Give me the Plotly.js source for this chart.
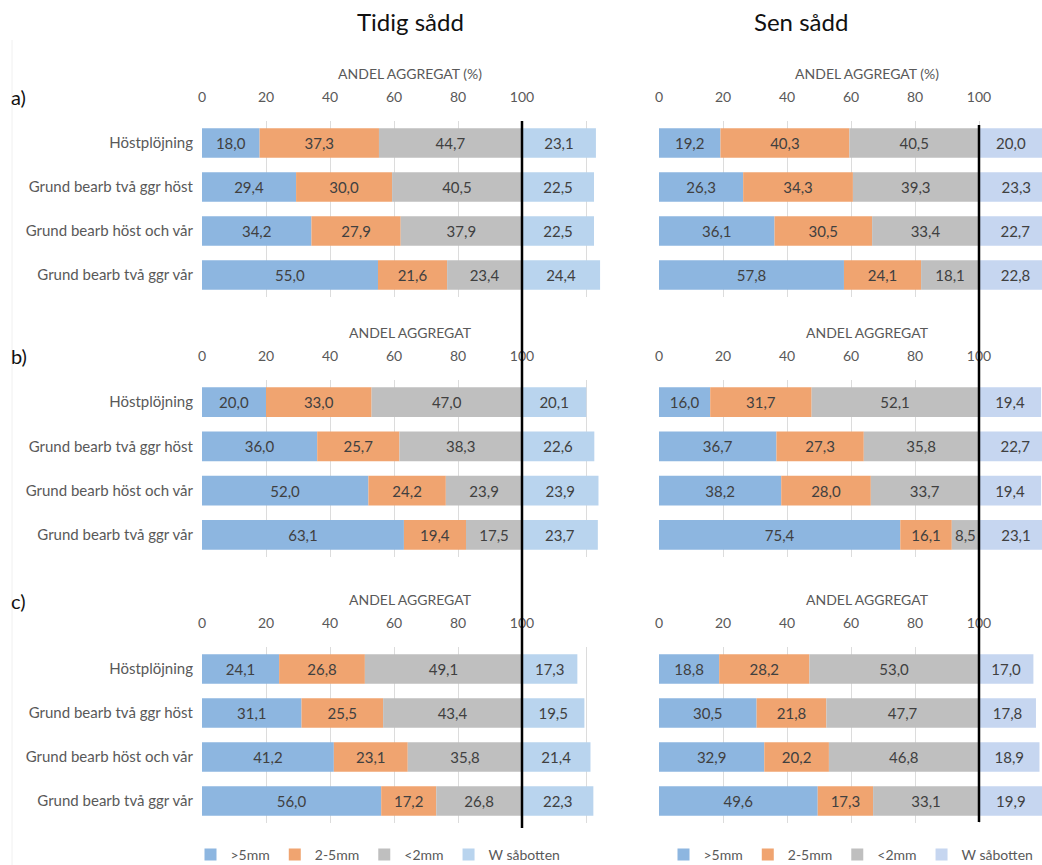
<!DOCTYPE html>
<html>
<head>
<meta charset="utf-8">
<script src="https://cdn.plot.ly/plotly-3.0.1.min.js"></script>
<style>
  html, body { margin: 0; padding: 0; overflow: hidden; background: #fff; }
  #chart { width: 1080px; height: 865px; }
</style>
</head>
<body>
<div id="chart"></div>
<script>
// Treatments (bar categories), top to bottom
const categories = ['Höstplöjning', 'Grund bearb två ggr höst', 'Grund bearb höst och vår', 'Grund bearb två ggr vår'];
const seriesNames = ['>5mm', '2-5mm', '<2mm', 'W såbotten'];
const tickValues = [0, 20, 40, 60, 80, 100, 120];
const tickLabels = ['0', '20', '40', '60', '80', '100', ''];

// a) Tidig sådd
const aTidigOver5 = [18.0, 29.4, 34.2, 55.0];
const aTidigMid = [37.3, 30.0, 27.9, 21.6];
const aTidigUnder2 = [44.7, 40.5, 37.9, 23.4];
const aTidigW = [23.1, 22.5, 22.5, 24.4];
// a) Sen sådd
const aSenOver5 = [19.2, 26.3, 36.1, 57.8];
const aSenMid = [40.3, 34.3, 30.5, 24.1];
const aSenUnder2 = [40.5, 39.3, 33.4, 18.1];
const aSenW = [20.0, 23.3, 22.7, 22.8];
// b) Tidig sådd
const bTidigOver5 = [20.0, 36.0, 52.0, 63.1];
const bTidigMid = [33.0, 25.7, 24.2, 19.4];
const bTidigUnder2 = [47.0, 38.3, 23.9, 17.5];
const bTidigW = [20.1, 22.6, 23.9, 23.7];
// b) Sen sådd
const bSenOver5 = [16.0, 36.7, 38.2, 75.4];
const bSenMid = [31.7, 27.3, 28.0, 16.1];
const bSenUnder2 = [52.1, 35.8, 33.7, 8.5];
const bSenW = [19.4, 22.7, 19.4, 23.1];
// c) Tidig sådd
const cTidigOver5 = [24.1, 31.1, 41.2, 56.0];
const cTidigMid = [26.8, 25.5, 23.1, 17.2];
const cTidigUnder2 = [49.1, 43.4, 35.8, 26.8];
const cTidigW = [17.3, 19.5, 21.4, 22.3];
// c) Sen sådd
const cSenOver5 = [18.8, 30.5, 32.9, 49.6];
const cSenMid = [28.2, 21.8, 20.2, 17.3];
const cSenUnder2 = [53.0, 47.7, 46.8, 33.1];
const cSenW = [17.0, 17.8, 18.9, 19.9];

const W = 1080, H = 865;
const px = v => v / W;
const py = v => 1 - v / H;

const colors = {
  over5: '#8DB6E0',
  mid: '#F0A470',
  under2: '#BFBFBF',
  wLeft: '#B9D4EE',
  wRight: '#C6D6F0'
};
const textColor = '#404040';
const labelColor = '#595959';
const font = 'Lato, "Open Sans", sans-serif';

const colDomains = [[px(202), px(618)], [px(659), px(1075)]];
const rowDomains = [[py(297), py(121)], [py(557), py(380)], [py(823), py(647)]];
const axisTitles = ['ANDEL AGGREGAT (%)', 'ANDEL AGGREGAT', 'ANDEL AGGREGAT'];

const panels = [
  { row: 0, col: 0, over5: aTidigOver5, mid: aTidigMid, under2: aTidigUnder2, w: aTidigW },
  { row: 0, col: 1, over5: aSenOver5, mid: aSenMid, under2: aSenUnder2, w: aSenW },
  { row: 1, col: 0, over5: bTidigOver5, mid: bTidigMid, under2: bTidigUnder2, w: bTidigW },
  { row: 1, col: 1, over5: bSenOver5, mid: bSenMid, under2: bSenUnder2, w: bSenW },
  { row: 2, col: 0, over5: cTidigOver5, mid: cTidigMid, under2: cTidigUnder2, w: cTidigW },
  { row: 2, col: 1, over5: cSenOver5, mid: cSenMid, under2: cSenUnder2, w: cSenW }
];

const traces = [];
const layout = {
  width: W, height: H,
  margin: { l: 0, r: 0, t: 0, b: 0, autoexpand: false },
  paper_bgcolor: '#fff', plot_bgcolor: '#fff',
  barmode: 'overlay',
  separators: ', ',
  font: { family: font, color: labelColor },
  shapes: [], annotations: []
};

panels.forEach((p, i) => {
  const n = i + 1;
  const xa = n === 1 ? 'x' : 'x' + n;
  const ya = n === 1 ? 'y' : 'y' + n;
  const legendId = p.col === 0 ? 'legend' : 'legend2';
  const base2 = p.over5.slice();
  const base3 = p.over5.map((v, k) => v + p.mid[k]);
  const segs = [
    { name: seriesNames[0], x: p.over5, base: p.over5.map(() => 0), color: colors.over5 },
    { name: seriesNames[1], x: p.mid, base: base2, color: colors.mid },
    { name: seriesNames[2], x: p.under2, base: base3, color: colors.under2 },
    { name: seriesNames[3], x: p.w, base: p.w.map(() => 100), color: p.col === 0 ? colors.wLeft : colors.wRight }
  ];
  segs.forEach(s => {
    traces.push({
      type: 'bar', orientation: 'h',
      name: s.name, x: s.x, y: categories, base: s.base,
      width: 0.67,
      marker: { color: s.color, line: { width: 0 } },
      texttemplate: '%{x:.1f}', textposition: 'inside', insidetextanchor: 'middle',
      textangle: 0, constraintext: 'none',
      textfont: { family: font, size: 15, color: textColor },
      xaxis: xa, yaxis: ya,
      legend: legendId,
      showlegend: p.row === 0,
      hoverinfo: 'skip'
    });
  });

  layout['xaxis' + (n === 1 ? '' : n)] = {
    domain: colDomains[p.col], anchor: ya, side: 'top',
    range: [0, 130], tickvals: tickValues, ticktext: tickLabels,
    showgrid: true, gridcolor: '#DCDCDC', gridwidth: 1, zeroline: false, showline: false,
    ticks: '', ticklabelstandoff: 15,
    tickfont: { family: font, size: 14, color: labelColor },
    title: { text: axisTitles[p.row], font: { family: font, size: 14, color: labelColor }, standoff: 5 },
    automargin: false,
    fixedrange: true
  };
  layout['yaxis' + (n === 1 ? '' : n)] = {
    domain: rowDomains[p.row], anchor: xa, type: 'category',
    autorange: 'reversed', showgrid: false, zeroline: false, showline: false,
    ticks: '', showticklabels: p.col === 0, ticklabelstandoff: 8,
    tickfont: { family: font, size: 15, color: labelColor },
    automargin: false,
    fixedrange: true
  };
});

// Reference line at 100 % running through all three panels of each column
layout.shapes.push(
  { type: 'line', xref: 'x', yref: 'paper', x0: 100, x1: 100, y0: py(828), y1: py(121), line: { color: '#000', width: 2.5 } },
  { type: 'line', xref: 'x2', yref: 'paper', x0: 100, x1: 100, y0: py(822), y1: py(125), line: { color: '#000', width: 2.5 } },
  { type: 'line', xref: 'paper', yref: 'paper', x0: px(12), x1: px(12), y0: 0, y1: py(40), line: { color: '#F0F0F0', width: 1 }, layer: 'below' }
);

// Column headings and panel letters
layout.annotations.push(
  { text: 'Tidig sådd', xref: 'paper', yref: 'paper', x: px(410), y: py(22), yanchor: 'middle', showarrow: false, font: { family: font, size: 24, color: '#111' } },
  { text: 'Sen sådd', xref: 'paper', yref: 'paper', x: px(850), y: py(22), yanchor: 'middle', showarrow: false, font: { family: font, size: 24, color: '#111' } },
  { text: 'a)', xref: 'paper', yref: 'paper', x: px(9), y: py(97), xanchor: 'left', yanchor: 'middle', showarrow: false, font: { family: font, size: 20, color: '#111' } },
  { text: 'b)', xref: 'paper', yref: 'paper', x: px(9), y: py(356), xanchor: 'left', yanchor: 'middle', showarrow: false, font: { family: font, size: 20, color: '#111' } },
  { text: 'c)', xref: 'paper', yref: 'paper', x: px(9), y: py(601), xanchor: 'left', yanchor: 'middle', showarrow: false, font: { family: font, size: 20, color: '#111' } }
);

const legendCommon = {
  orientation: 'h', xanchor: 'center', yanchor: 'middle',
  y: py(855), font: { family: font, size: 14, color: labelColor },
  bgcolor: 'rgba(0,0,0,0)', itemclick: false, itemdoubleclick: false,
  tracegroupgap: 0
};
layout.legend = Object.assign({}, legendCommon, { x: px(378) });
layout.legend2 = Object.assign({}, legendCommon, { x: px(851) });

Plotly.newPlot('chart', traces, layout, { staticPlot: true, displayModeBar: false });
</script>
</body>
</html>
